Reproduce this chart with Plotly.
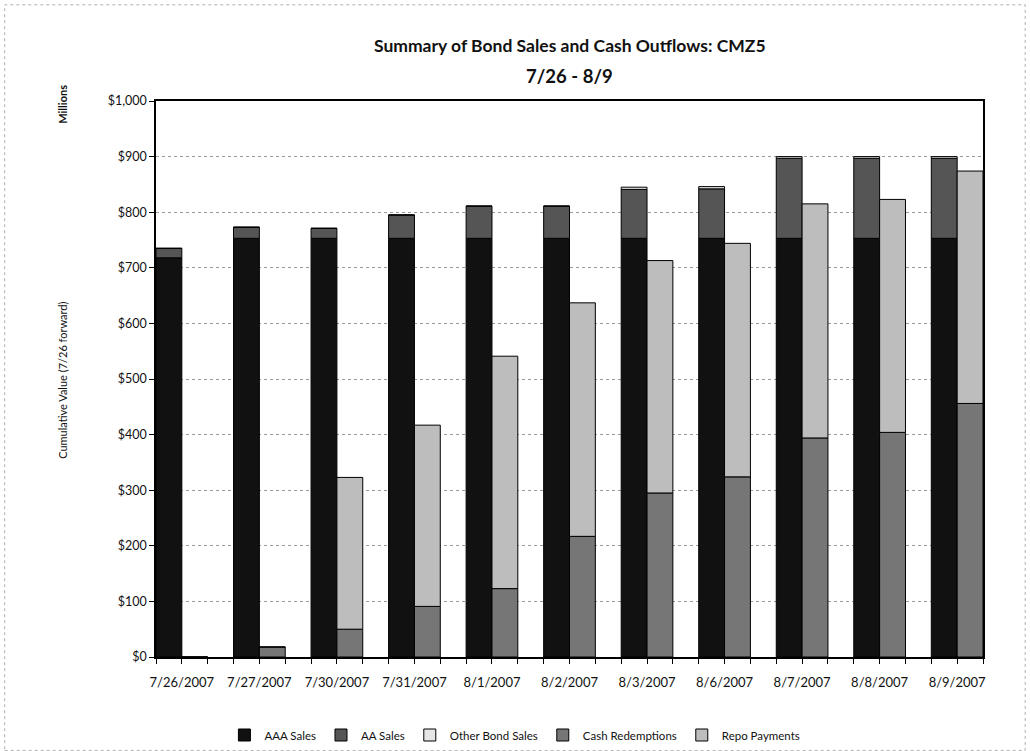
import plotly.graph_objects as go

dates = ["7/26/2007", "7/27/2007", "7/30/2007", "7/31/2007", "8/1/2007", "8/2/2007",
         "8/3/2007", "8/6/2007", "8/7/2007", "8/8/2007", "8/9/2007"]
aaa_sales = [718, 753, 753, 753, 753, 753, 753, 753, 753, 753, 753]
aa_sales = [17, 20, 18, 42, 58, 58, 88, 89, 144, 144, 144]
other_bond_sales = [0, 0, 0, 0, 0, 0, 4, 4, 3, 3, 3]
cash_redemptions = [0, 18, 50, 91, 123, 217, 295, 324, 394, 404, 456]
repo_payments = [0, 0, 273, 326, 418, 420, 418, 420, 421, 419, 418]

x = list(range(len(dates)))
base_aa = [a for a in aaa_sales]
base_other = [a + b for a, b in zip(aaa_sales, aa_sales)]
base_repo = [c for c in cash_redemptions]

FONT = "Lato"
line = dict(color="#000000", width=1)

fig = go.Figure()
fig.add_bar(name="AAA Sales", x=x, y=aaa_sales, offsetgroup="L",
            marker=dict(color="#111111", line=line))
fig.add_bar(name="AA Sales", x=x, y=aa_sales, base=base_aa, offsetgroup="L",
            marker=dict(color="#555555", line=line))
fig.add_bar(name="Other Bond Sales", x=x, y=other_bond_sales, base=base_other, offsetgroup="L",
            marker=dict(color="#e6e6e6", line=line))
fig.add_bar(name="Cash Redemptions", x=x, y=cash_redemptions, offsetgroup="R",
            marker=dict(color="#767676", line=line))
fig.add_bar(name="Repo Payments", x=x, y=repo_payments, base=base_repo, offsetgroup="R",
            marker=dict(color="#bdbdbd", line=line))

fig.update_layout(
    width=1030, height=751,
    margin=dict(l=156, r=47, t=101, b=94, autoexpand=False),
    paper_bgcolor="white", plot_bgcolor="white",
    barmode="group", bargap=1/3, bargroupgap=0,
    font=dict(family=FONT, color="#111111", size=11),
    showlegend=True,
    legend=dict(orientation="h", x=0.434, xanchor="center",
                yref="container", y=(751 - 735) / 751, yanchor="middle",
                font=dict(size=11.5, family=FONT), traceorder="normal",
                itemwidth=30),
    hovermode=False,
)

fig.update_xaxes(
    range=[-1/3, len(dates) - 1 + 1/3],
    tickvals=x, ticktext=dates,
    ticks="outside", ticklen=5, tickcolor="#000000",
    minor=dict(ticks="outside", ticklen=5, dtick=1/3, tick0=0, tickcolor="#000000"),
    ticklabelstandoff=8,
    showline=True, linecolor="#000000", linewidth=1.5, mirror=True,
    showgrid=False, zeroline=False,
    tickfont=dict(size=13, family=FONT),
)
fig.update_yaxes(
    range=[0, 1000], dtick=100, tickprefix="$", tickformat=",d",
    ticks="outside", ticklen=5, tickcolor="#000000",
    showline=True, linecolor="#000000", linewidth=1.5, mirror=True,
    showgrid=True, gridcolor="#9a9a9a", griddash="dot", gridwidth=1,
    zeroline=False,
    tickfont=dict(size=12.5, family=FONT),
)

annotations = [
    dict(text="<b>Summary of Bond Sales and Cash Outflows: CMZ5</b>", x=0.5, y=1.1007,
         xref="paper", yref="paper", showarrow=False, xanchor="center", yanchor="middle",
         font=dict(size=17.5, family=FONT, color="#111111")),
    dict(text="<b>7/26 - 8/9</b>", x=0.5, y=1.045,
         xref="paper", yref="paper", showarrow=False, xanchor="center", yanchor="middle",
         font=dict(size=18.5, family=FONT, color="#111111")),
    dict(text="<b>Millions</b>", x=-0.1125, y=0.995, xref="paper", yref="paper",
         showarrow=False, textangle=-90, xanchor="center", yanchor="middle",
         font=dict(size=11, family=FONT)),
    dict(text="Cumulative Value (7/26 forward)", x=-0.114, y=0.498, xref="paper", yref="paper",
         showarrow=False, textangle=-90, xanchor="center", yanchor="middle",
         font=dict(size=11, family=FONT)),
]
fig.update_layout(annotations=annotations)

fig.add_shape(type="rect", xref="paper", yref="paper",
              x0=-0.183, x1=1.051, y0=-0.168, y1=1.173,
              line=dict(color="#b0b0b0", width=1, dash="dot"), fillcolor="rgba(0,0,0,0)",
              layer="below")

fig.write_html("out.html")
